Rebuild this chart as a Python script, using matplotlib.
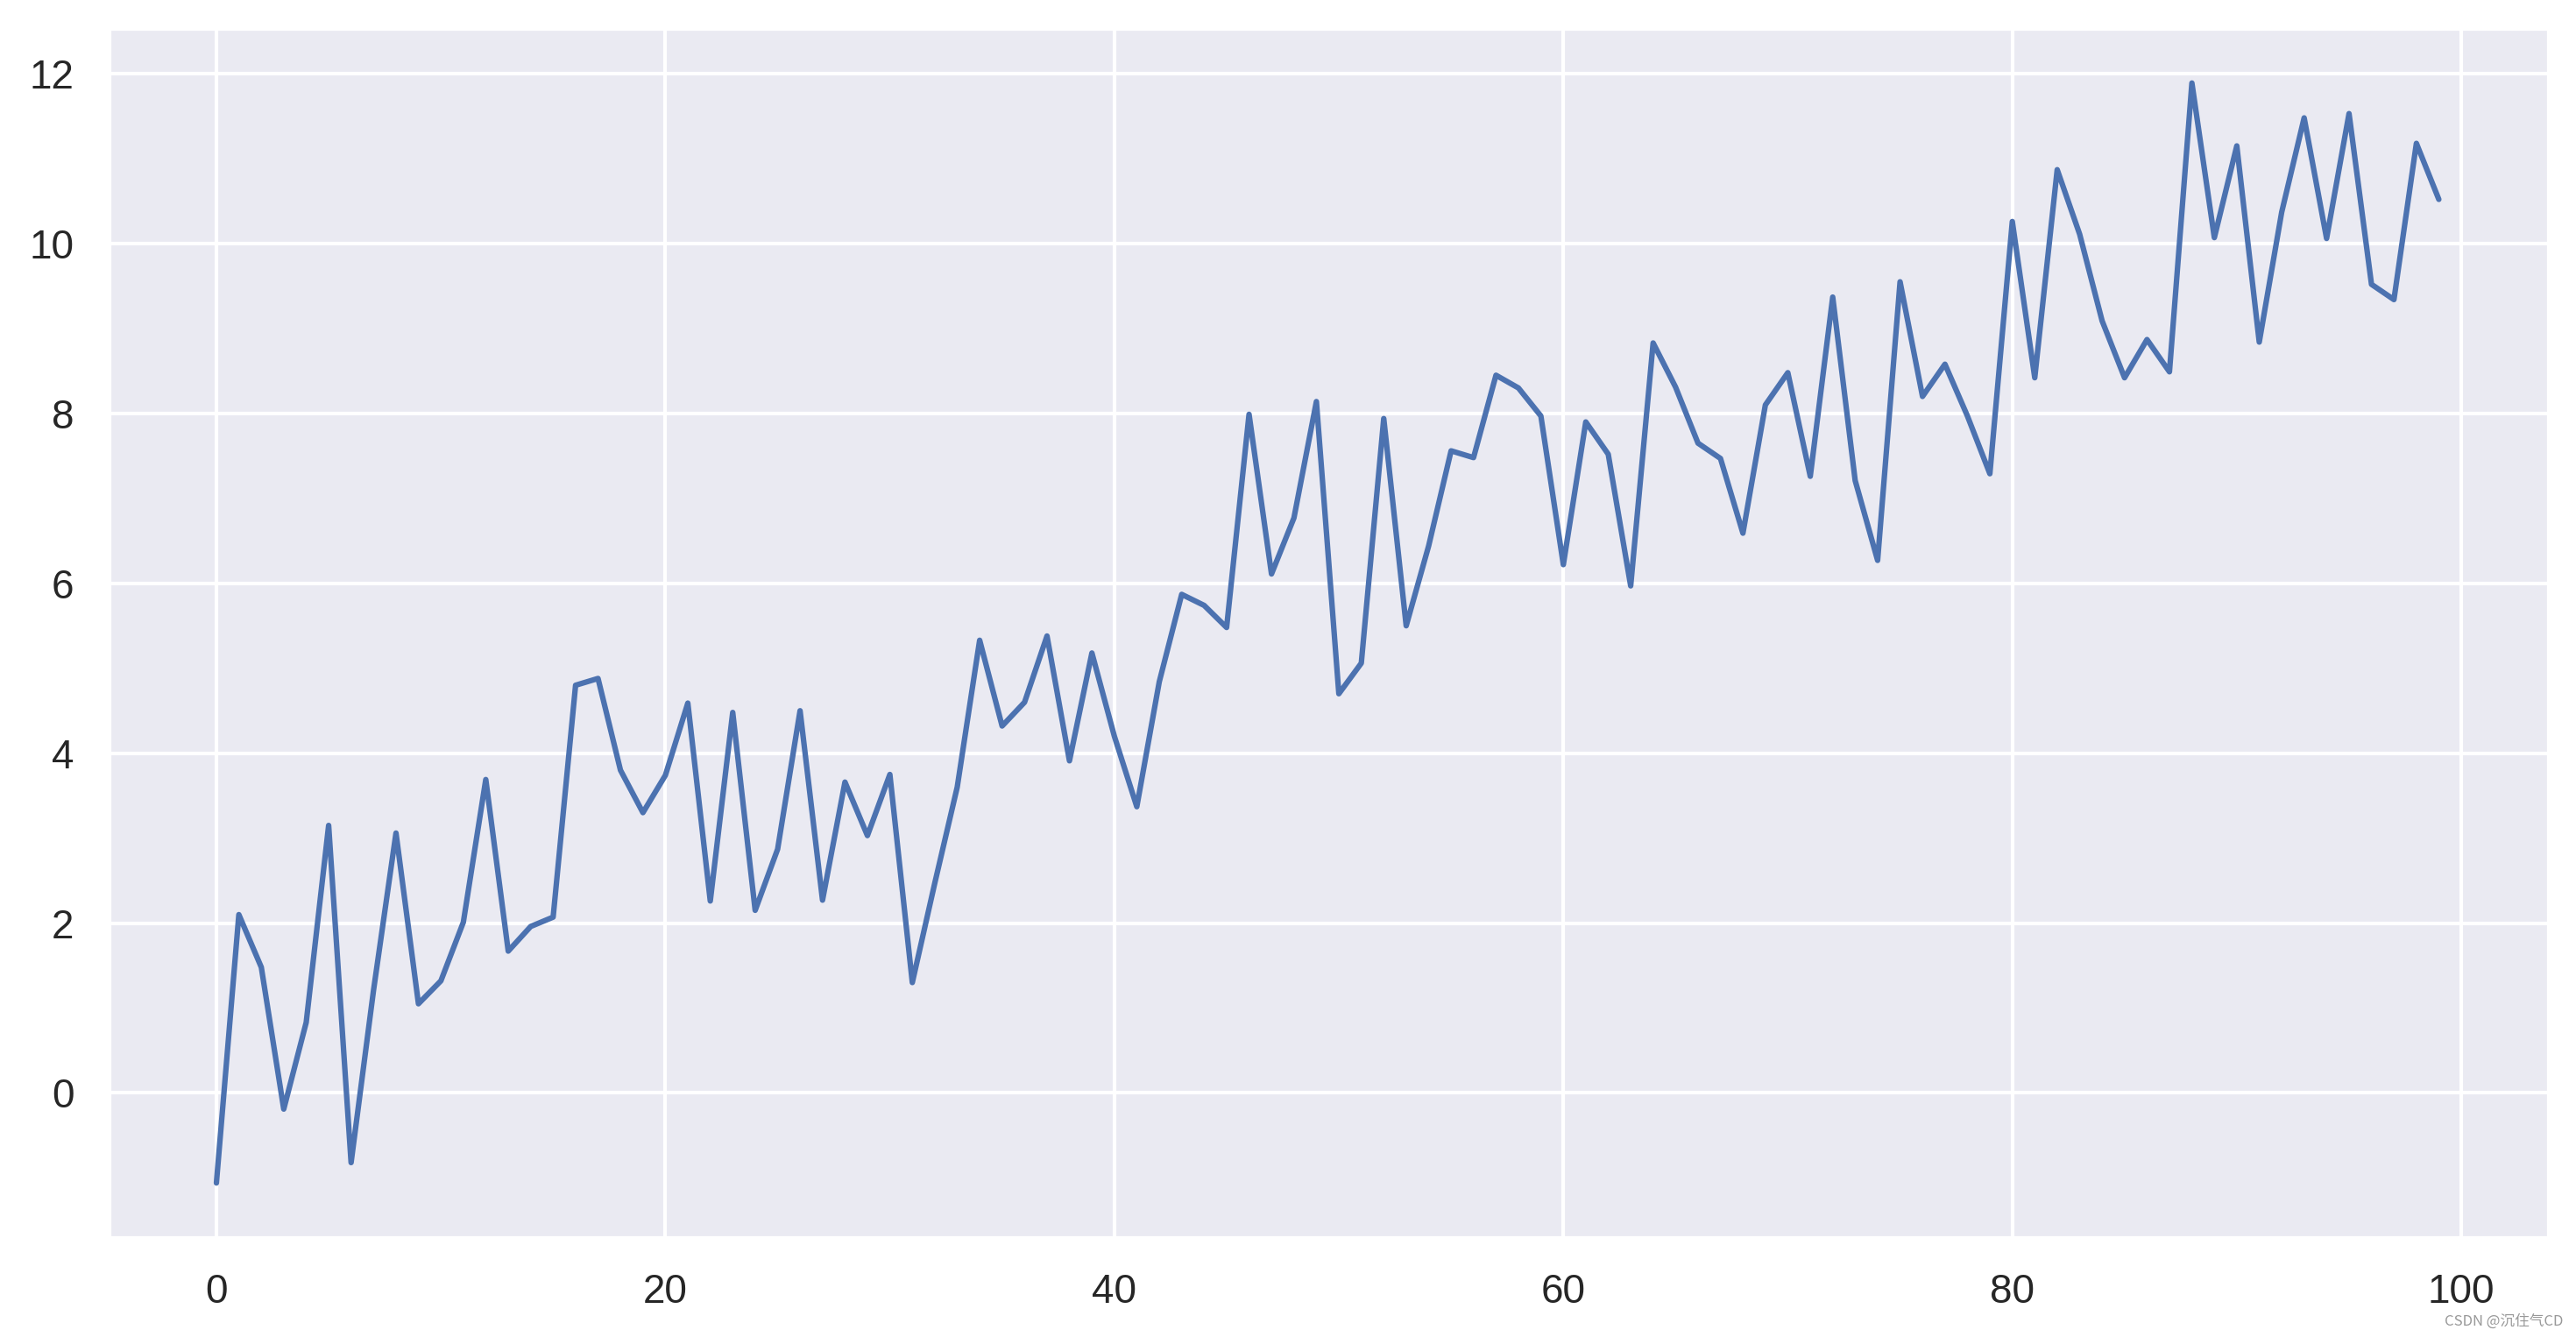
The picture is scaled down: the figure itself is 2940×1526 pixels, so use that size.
import matplotlib
matplotlib.use("Agg")
import matplotlib.pyplot as plt
import seaborn as sns
import numpy as np

x_values = list(range(100))
y_values = [
    -1.06, 2.10, 1.48, -0.19, 0.83, 3.15, -0.82, 1.21, 3.06, 1.05,
    1.32, 2.01, 3.69, 1.67, 1.96, 2.07, 4.80, 4.88, 3.80, 3.30,
    3.74, 4.59, 2.26, 4.48, 2.15, 2.87, 4.50, 2.27, 3.66, 3.03,
    3.75, 1.30, 2.47, 3.60, 5.33, 4.32, 4.60, 5.38, 3.91, 5.18,
    4.20, 3.37, 4.84, 5.87, 5.74, 5.48, 7.99, 6.11, 6.77, 8.14,
    4.70, 5.06, 7.94, 5.50, 6.44, 7.56, 7.48, 8.45, 8.30, 7.97,
    6.22, 7.90, 7.52, 5.97, 8.83, 8.31, 7.65, 7.47, 6.59, 8.10,
    8.48, 7.26, 9.37, 7.21, 6.27, 9.55, 8.20, 8.58, 7.97, 7.29,
    10.26, 8.42, 10.87, 10.11, 9.09, 8.42, 8.87, 8.49, 11.89, 10.07,
    11.15, 8.84, 10.37, 11.48, 10.06, 11.53, 9.52, 9.34, 11.18, 10.52,
]
x_ticks = [0, 20, 40, 60, 80, 100]
y_ticks = [0, 2, 4, 6, 8, 10, 12]

sns.set_theme(style="darkgrid")
plt.rcParams['font.family'] = ['Liberation Sans', 'DejaVu Sans']

fig = plt.figure(figsize=(9.8, 5.0867), dpi=300)
ax = fig.add_axes([124 / 2940, 1 - 1413 / 1526, (2909 - 124) / 2940, (1413 - 32) / 1526])
ax.plot(x_values, y_values, color="#4c72b0", linewidth=1.5)
ax.set_xticks(x_ticks)
ax.set_yticks(y_ticks)
ax.set_xlim(-4.8, 103.9)

fig.text(0.995, 0.012, "CSDN @沉住气CD", ha="right", va="center", fontsize=4,
         color="#999999", family=['Noto Sans CJK SC', 'DejaVu Sans'])

fig.savefig("out.png", dpi=300)
